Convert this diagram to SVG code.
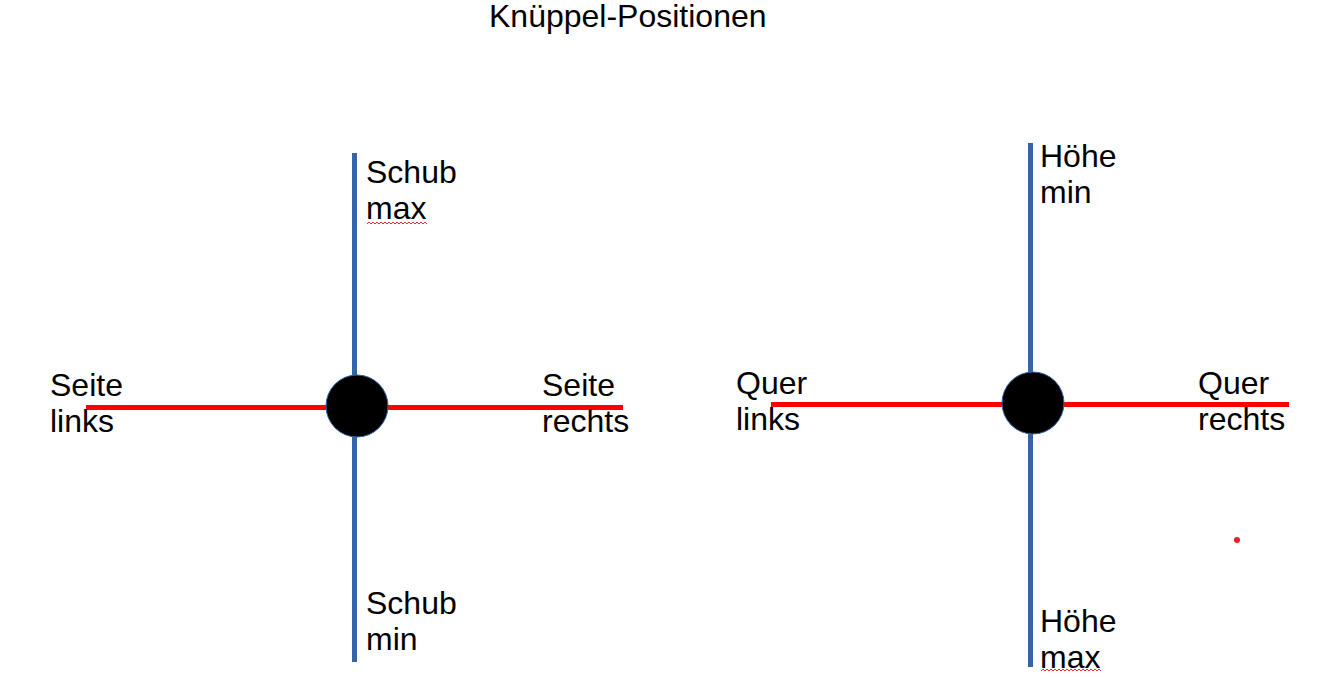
<svg xmlns="http://www.w3.org/2000/svg" width="1321" height="687" viewBox="0 0 1321 687">
<style>
.t{font-family:"Liberation Sans",Arial,sans-serif;font-size:32px;fill:#000}
.v{stroke:#3465a4;stroke-width:5}
.h{stroke:#ff0000;stroke-width:5}
.k{fill:#000;stroke:#3465a4;stroke-width:1}
.sq{fill:none;stroke:#e03030;stroke-width:1}
</style>
<rect width="1321" height="687" fill="#fff"/>
<text class="t" x="489" y="27">Knüppel-Positionen</text>
<g id="connectors">
<line class="v" x1="354.5" y1="153" x2="354.5" y2="662"/>
<line class="h" x1="86" y1="407.5" x2="623" y2="407.5"/>
<line class="v" x1="1030.5" y1="143" x2="1030.5" y2="667"/>
<line class="h" x1="771" y1="404.5" x2="1289" y2="404.5"/>
</g>
<g id="stick-left"><circle class="k" cx="357" cy="406" r="31"/></g>
<g id="stick-right"><circle class="k" cx="1033" cy="403" r="31"/></g>
<g id="label-schub-max"><text class="t" x="366" y="183">Schub</text><text class="t" x="366" y="219">max</text>
<path class="sq" d="M367 224 l2 -2 l2 2 l2 -2 l2 2 l2 -2 l2 2 l2 -2 l2 2 l2 -2 l2 2 l2 -2 l2 2 l2 -2 l2 2 l2 -2 l2 2 l2 -2 l2 2 l2 -2 l2 2 l2 -2 l2 2 l2 -2 l2 2 l2 -2 l2 2 l2 -2 l2 2 l2 -2 l2 2"/></g>
<g id="label-schub-min"><text class="t" x="366" y="614">Schub</text><text class="t" x="366" y="650">min</text></g>
<g id="label-seite-links"><text class="t" x="50" y="396">Seite</text><text class="t" x="50" y="432">links</text></g>
<g id="label-seite-rechts"><text class="t" x="542" y="396">Seite</text><text class="t" x="542" y="432">rechts</text></g>
<g id="label-hoehe-min"><text class="t" x="1040" y="167">Höhe</text><text class="t" x="1040" y="203">min</text></g>
<g id="label-hoehe-max"><text class="t" x="1040" y="632">Höhe</text><text class="t" x="1040" y="668">max</text>
<path class="sq" d="M1041 671 l2 -2 l2 2 l2 -2 l2 2 l2 -2 l2 2 l2 -2 l2 2 l2 -2 l2 2 l2 -2 l2 2 l2 -2 l2 2 l2 -2 l2 2 l2 -2 l2 2 l2 -2 l2 2 l2 -2 l2 2 l2 -2 l2 2 l2 -2 l2 2 l2 -2 l2 2 l2 -2 l2 2"/></g>
<g id="label-quer-links"><text class="t" x="736" y="394">Quer</text><text class="t" x="736" y="430">links</text></g>
<g id="label-quer-rechts"><text class="t" x="1198" y="394">Quer</text><text class="t" x="1198" y="430">rechts</text></g>
<circle cx="1237" cy="540" r="3" fill="#ee1c1c"/>
</svg>
